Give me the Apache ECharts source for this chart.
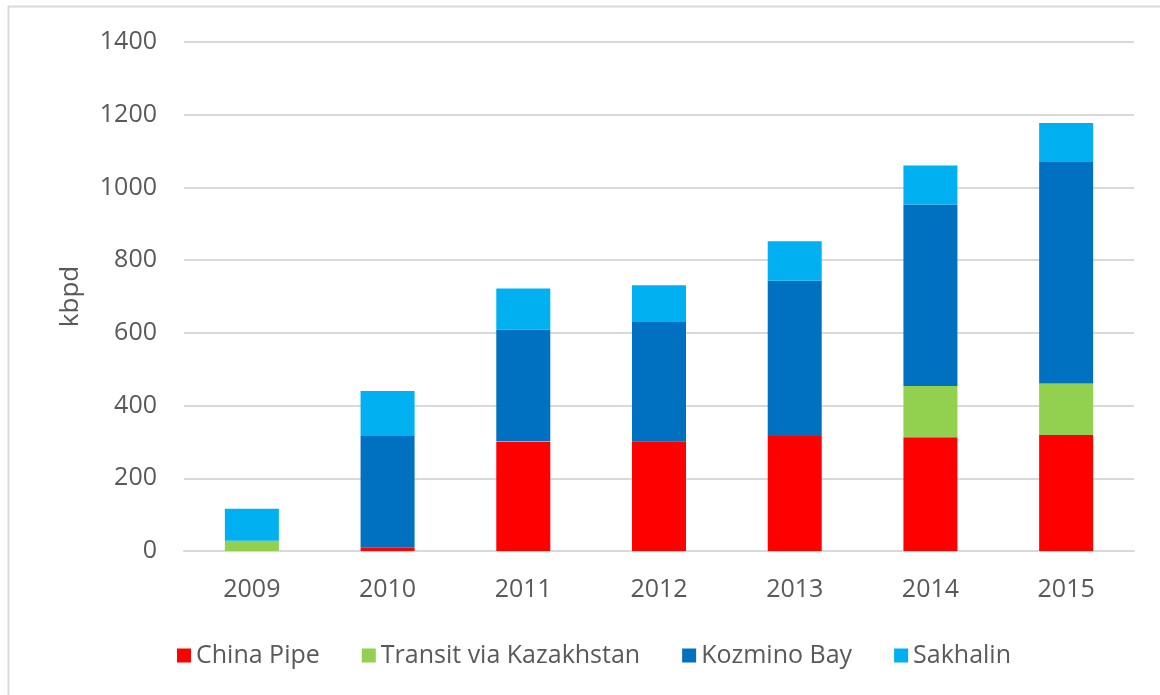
<!DOCTYPE html>
<html>
<head>
<meta charset="utf-8">
<script src="https://cdn.jsdelivr.net/npm/echarts@6/dist/echarts.min.js"></script>
<style>
  html, body { margin: 0; padding: 0; background: #fff; }
  #chart { width: 1160px; height: 695px; }
</style>
</head>
<body>
<div id="chart"></div>
<script>
    "use strict";

    var years = ['2009', '2010', '2011', '2012', '2013', '2014', '2015'];
    var chinaPipe = [0, 9, 300, 302, 316, 313, 319];
    var transitKaz = [28, 0, 2, 0, 0, 141, 142];
    var kozminoBay = [0, 307, 307, 328, 427, 499, 611];
    var sakhalin = [88, 124, 113, 101, 109, 107, 105];

    var font = '"Open Sans", "Noto Sans", sans-serif';
    var textColor = '#595959';
    var gridColor = '#d9d9d9';

    var chart = echarts.init(document.getElementById('chart'));

    function barSeries(name, data, color) {
        return {
            name: name,
            type: 'bar',
            stack: 'total',
            barWidth: 54,
            data: data,
            itemStyle: { color: color },
            emphasis: { disabled: true }
        };
    }

    var option = {
        animation: false,
        textStyle: { fontFamily: font },

        // chart frame
        graphic: [{
            type: 'rect',
            shape: { x: 8.5, y: 6.5, width: 1200, height: 720 },
            style: { fill: 'none', stroke: gridColor, lineWidth: 2 },
            silent: true
        }],

        grid: { left: 184, right: 26, top: 42, bottom: 144 },

        legend: {
            left: 172,
            top: 638,
            icon: 'rect',
            itemWidth: 14,
            itemHeight: 14,
            itemGap: 42,
            textStyle: { fontSize: 25, color: textColor, fontFamily: font },
            data: ['China Pipe', 'Transit via Kazakhstan', 'Kozmino Bay', 'Sakhalin']
        },

        xAxis: {
            type: 'category',
            data: years,
            axisLine: { lineStyle: { color: gridColor, width: 2 } },
            axisTick: { show: false },
            axisLabel: { fontSize: 25, color: textColor, margin: 26, fontFamily: font }
        },

        yAxis: {
            type: 'value',
            min: 0,
            max: 1400,
            interval: 200,
            name: 'kbpd',
            nameLocation: 'middle',
            nameGap: 100,
            nameTextStyle: { fontSize: 26, color: textColor, fontFamily: font },
            axisLine: { show: false },
            axisTick: { show: false },
            axisLabel: {
                fontSize: 25,
                color: textColor,
                margin: 27,
                fontFamily: font,
                formatter: function(v) { return String(v); }
            },
            splitLine: { lineStyle: { color: gridColor, width: 2 } }
        },

        series: [
            barSeries('China Pipe', chinaPipe, '#ff0000'),
            barSeries('Transit via Kazakhstan', transitKaz, '#92d050'),
            barSeries('Kozmino Bay', kozminoBay, '#0070c0'),
            barSeries('Sakhalin', sakhalin, '#00b0f0')
        ]
    };

    chart.setOption(option);
</script>
</body>
</html>
